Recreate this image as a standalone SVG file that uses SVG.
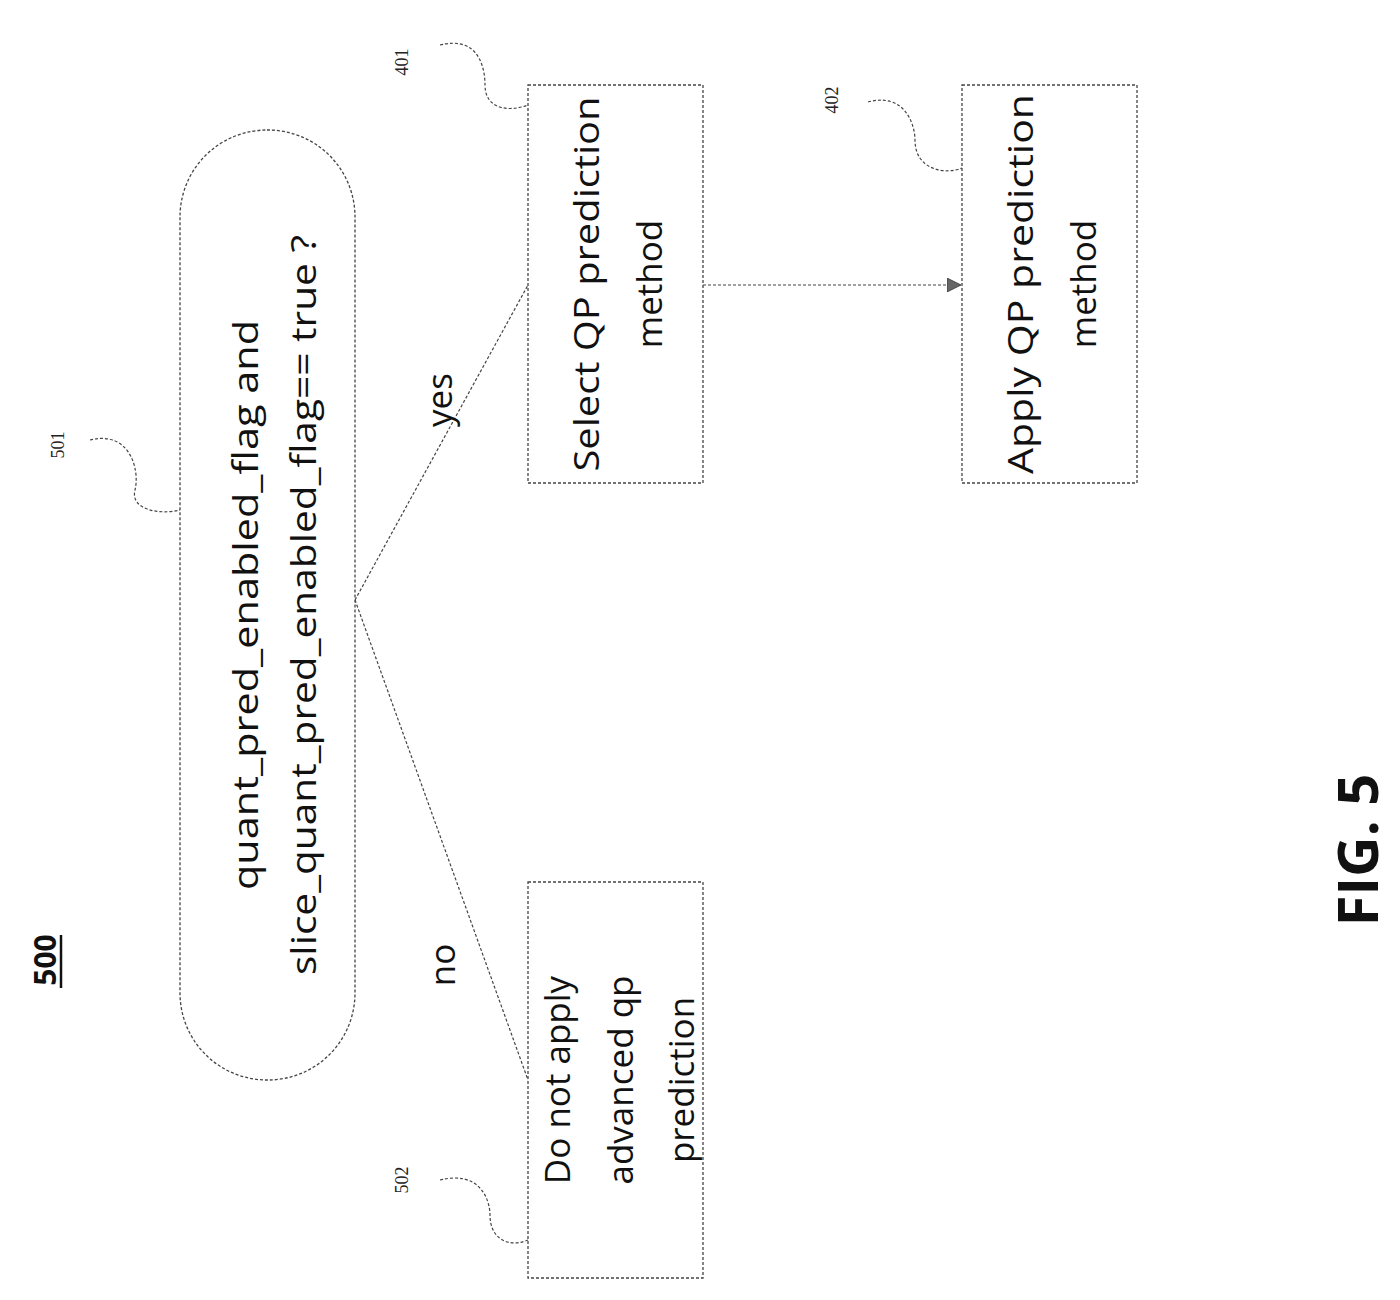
<svg xmlns="http://www.w3.org/2000/svg" width="1400" height="1300" viewBox="0 0 1400 1300">
<style>
.box{fill:#fff;stroke:#444;stroke-width:1.3;stroke-dasharray:3 2}
.t{font-family:"Open Sans","Liberation Sans",sans-serif;font-size:35px;fill:#111;text-anchor:middle}
.ref{font-family:"Liberation Serif",serif;font-size:18px;fill:#222;text-anchor:middle}
.lead{fill:none;stroke:#444;stroke-width:1.2;stroke-dasharray:3 2}
.conn{stroke:#444;stroke-width:1.2;stroke-dasharray:3 2;fill:none}
</style>
<defs>
<marker id="ah" markerWidth="14" markerHeight="14" refX="13" refY="7" orient="auto" markerUnits="userSpaceOnUse">
<path d="M0,0 L14,7 L0,14 Z" fill="#666" stroke="#333" stroke-width="0.8"/>
</marker>
</defs>
<rect width="1400" height="1300" fill="#fff"/>
<g id="title">
<text class="t" transform="translate(56,960) rotate(-90)" style="font-weight:bold;font-size:30px">500</text>
<line x1="61" y1="935" x2="61" y2="988" stroke="#111" stroke-width="2.5"/>
</g>
<g id="fig">
<text class="t" transform="translate(1378,850) rotate(-90)" style="font-weight:bold;font-size:56px">FIG. 5</text>
</g>
<g id="connectors">
<line class="conn" x1="355" y1="600" x2="528" y2="285"/>
<line class="conn" x1="355" y1="600" x2="528" y2="1080"/>
<line class="conn" x1="703" y1="285" x2="960" y2="285" marker-end="url(#ah)"/>
<text class="t" transform="translate(452,400) rotate(-90)">yes</text>
<text class="t" transform="translate(455,965) rotate(-90)">no</text>
</g>
<g id="n501">
<rect class="box" x="180" y="130" width="175" height="950" rx="87"/>
<text class="t" transform="translate(258,605) rotate(-90)" textLength="570" lengthAdjust="spacingAndGlyphs">quant_pred_enabled_flag and</text>
<text class="t" transform="translate(316,605) rotate(-90)" textLength="740" lengthAdjust="spacingAndGlyphs">slice_quant_pred_enabled_flag== true ?</text>
<text class="ref" transform="translate(64,445) rotate(-90)">501</text>
<path class="lead" d="M90,440 C130,430 140,470 135,490 C130,510 160,515 180,510"/>
</g>
<g id="n401">
<rect class="box" x="528" y="85" width="175" height="398"/>
<text class="t" transform="translate(599,284) rotate(-90)" textLength="375" lengthAdjust="spacingAndGlyphs">Select QP prediction</text>
<text class="t" transform="translate(662,284) rotate(-90)">method</text>
<text class="ref" transform="translate(408,62) rotate(-90)">401</text>
<path class="lead" d="M440,45 C480,35 485,70 485,85 C485,110 510,112 528,105"/>
</g>
<g id="n402">
<rect class="box" x="962" y="85" width="175" height="398"/>
<text class="t" transform="translate(1033,284) rotate(-90)" textLength="380" lengthAdjust="spacingAndGlyphs">Apply QP prediction</text>
<text class="t" transform="translate(1096,284) rotate(-90)">method</text>
<text class="ref" transform="translate(838,100) rotate(-90)">402</text>
<path class="lead" d="M868,102 C905,92 915,125 915,140 C915,170 945,175 962,168"/>
</g>
<g id="n502">
<rect class="box" x="528" y="882" width="175" height="396"/>
<text class="t" transform="translate(570,1080) rotate(-90)">Do not apply</text>
<text class="t" transform="translate(633,1080) rotate(-90)">advanced qp</text>
<text class="t" transform="translate(694,1080) rotate(-90)">prediction</text>
<text class="ref" transform="translate(408,1180) rotate(-90)">502</text>
<path class="lead" d="M440,1180 C480,1170 490,1200 490,1215 C490,1240 510,1248 528,1240"/>
</g>
</svg>
